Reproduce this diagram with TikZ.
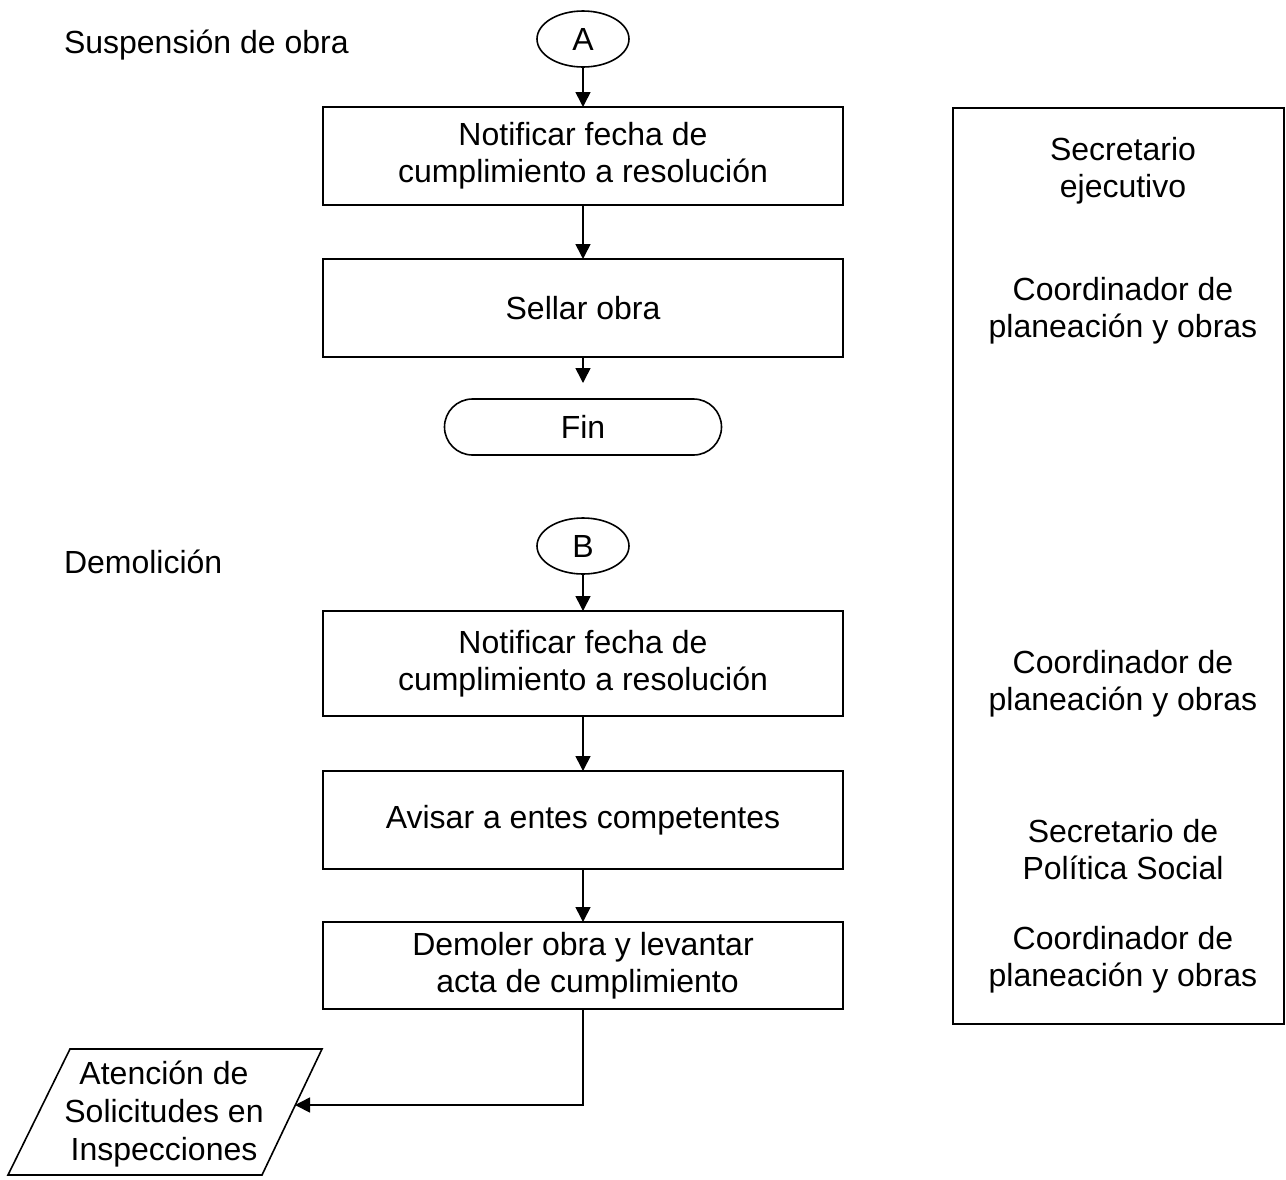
\documentclass[tikz,border=0pt]{standalone}
\usepackage{fontspec}
\setmainfont{Liberation Sans}
\usetikzlibrary{shapes.geometric,shapes.misc,arrows.meta}
\begin{document}
\begin{tikzpicture}[x=1pt,y=-1pt,
  every node/.style={font=\fontsize{32}{37}\selectfont, outer sep=0pt, inner sep=0pt},
  procbox/.style={draw, line width=1.6pt, minimum width=520pt, align=center},
  conn/.style={draw, ellipse, line width=1.6pt, minimum width=92pt, minimum height=56pt},
  term/.style={draw, rounded rectangle, line width=1.6pt, minimum width=277pt, minimum height=56pt},
  arr/.style={line width=1.6pt, -{Triangle[length=15pt,width=15pt]}},
  lbl/.style={align=center}
]
\useasboundingbox (0,0) rectangle (1286,1179);

% section labels
\node[anchor=west] (lsusp) at (64,45) {Suspensión de obra};
\node[anchor=west] (ldemo) at (64,562) {Demolición};

% suspension flow
\node[conn] (A) at (583,39) {A};
\node[procbox, minimum height=98pt] (b1) at (583,156) {Notificar fecha de\\cumplimiento a resolución};
\node[procbox, minimum height=98pt] (b2) at (583,308) {Sellar obra};
\node[term] (fin) at (583,427) {Fin};

\draw[arr] (A.south) -- (b1.north);
\draw[arr] (b1.south) -- (b2.north);
\draw[arr, shorten >=16pt] (b2.south) -- (fin.north);

% demolition flow
\node[conn] (B) at (583,546) {B};
\node[procbox, minimum height=105pt] (b3) at (583,663.5) {Notificar fecha de\\cumplimiento a resolución};
\node[procbox, minimum height=98pt] (b4) at (583,820) {Avisar a entes competentes};
\node[procbox, minimum height=87pt] (b5) at (583,965.5) {Demoler obra y levantar\\\ acta de cumplimiento};

\draw[arr] (B.south) -- (b3.north);
\draw[arr] (b3.south) -- (b4.north);
\draw[arr] (b4.south) -- (b5.north);

% parallelogram
\draw[line width=1.6pt] (70,1049) -- (322,1049) -- (262,1175) -- (8,1175) -- cycle;
\node[lbl, font=\fontsize{32}{38}\selectfont] (par) at (164,1114) {Atención de\\Solicitudes en\\Inspecciones};
\coordinate (parin) at (295,1105);
\draw[arr] (b5.south) |- (parin);

% responsibility column
\node[draw, line width=1.6pt, minimum width=331pt, minimum height=916pt] (resp) at (1118.5,566) {};
\node[lbl] (r1) at (1123,171) {Secretario\\ejecutivo};
\node[lbl] (r2) at (1123,311) {Coordinador de\\planeación y obras};
\node[lbl] (r3) at (1123,684) {Coordinador de\\planeación y obras};
\node[lbl] (r4) at (1123,850) {Secretario de\\Política Social};
\node[lbl] (r5) at (1123,960) {Coordinador de\\planeación y obras};
\end{tikzpicture}
\end{document}
